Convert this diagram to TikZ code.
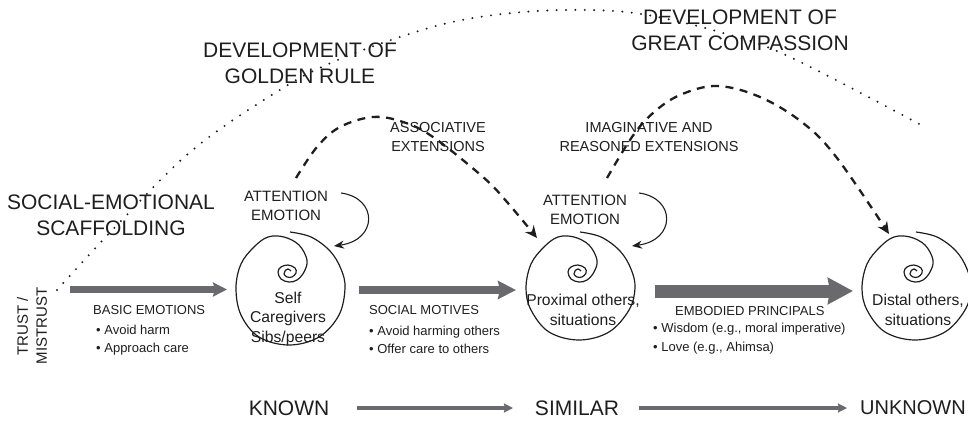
\documentclass[tikz,border=0pt]{standalone}
\usepackage{fontspec}
\setmainfont{Liberation Sans}
\usetikzlibrary{arrows.meta,calc}
\definecolor{garrow}{RGB}{105,105,110}
\definecolor{ink}{RGB}{30,30,30}
\newcommand{\spiralat}[2]{%
  \draw[line width=1.2pt,ink] plot[smooth,tension=0.6] coordinates {
   ($(#1)+(1,-40)$) ($(#1)+(22,-35)$) ($(#1)+(41,-21)$) ($(#1)+(52,-3)$) ($(#1)+(56,16)$) ($(#1)+(50,{38+#2})$) ($(#1)+(30,{60+#2})$)
   ($(#1)+(0,{68+#2})$) ($(#1)+(-30,{60+#2})$) ($(#1)+(-48,{38+#2})$) ($(#1)+(-53,16)$) ($(#1)+(-48,-8)$) ($(#1)+(-35,-25)$) ($(#1)+(-21,-35)$)
   ($(#1)+(-5,-35)$) ($(#1)+(10,-27)$) ($(#1)+(18,-12)$) ($(#1)+(15,0)$) ($(#1)+(8,8)$) ($(#1)+(0,10)$)
   ($(#1)+(-8,7)$) ($(#1)+(-11,0)$) ($(#1)+(-8,-5)$) ($(#1)+(-1,-7)$) ($(#1)+(6,-4)$) ($(#1)+(7,1)$)
   ($(#1)+(3,5)$) ($(#1)+(-2,5)$) ($(#1)+(-5,2)$) ($(#1)+(-4,-1)$) ($(#1)+(-1,-3)$) ($(#1)+(2,-1)$)};}
\tikzset{
  x=1pt,y=-1pt,
  big/.style={align=center,font=\fontsize{21}{26}\selectfont,text=ink,inner sep=0pt},
  mid/.style={align=center,font=\fontsize{15}{18.5}\selectfont,text=ink,inner sep=0pt},
  captxt/.style={align=center,font=\fontsize{14.5}{18.5}\selectfont,text=ink,inner sep=0pt},
  sm/.style={align=left,font=\fontsize{13}{18.5}\selectfont,text=ink,inner sep=0pt,anchor=west},
  lab/.style={align=center,font=\fontsize{15.7}{19.5}\selectfont,text=ink,inner sep=0pt},
  trusttxt/.style={align=center,font=\fontsize{15}{19}\selectfont,text=ink,inner sep=0pt},
  dashline/.style={line width=2.3pt,ink,dash pattern=on 8pt off 6.5pt,-{Stealth[length=12pt,width=11pt]}},
  loopline/.style={line width=1.1pt,ink,-{Stealth[length=10pt,width=8pt]}},
  dotline/.style={line width=2.2pt,ink,line cap=round,dash pattern=on 0pt off 9.4pt},
}
\begin{document}
\begin{tikzpicture}
\useasboundingbox (0,0) rectangle (968,420);
% anchor coordinates
\coordinate (sA) at (289,272);
\coordinate (sB) at (579,272);
\coordinate (sC) at (915,272);
% dotted arc
\coordinate (dotS) at (57,290);
\coordinate (dotE) at (923,126);
\draw[dotline] plot[smooth,tension=0.6] coordinates {(dotS) (120,222) (195,148) (283,88) (333,62) (397,38) (457,21) (523,12) (590,10) (647,15) (723,33) (790,57) (dotE)};
% titles
\node[big] (tA) at (111,215) {SOCIAL-EMOTIONAL\\SCAFFOLDING};
\node[big] (tB) at (300,63) {DEVELOPMENT OF\\GOLDEN RULE};
\node[big] (tC) at (740,30) {DEVELOPMENT OF\\GREAT COMPASSION};
\node[captxt] (eA) at (438,137) {ASSOCIATIVE\\EXTENSIONS};
\node[captxt] (eB) at (649,137) {IMAGINATIVE AND\\REASONED EXTENSIONS};
% spirals
\spiralat{sA}{5}
\spiralat{sB}{0}
\spiralat{sC}{0}
% attention labels
\node[mid] (aA) at (286,206) {ATTENTION\\EMOTION};
\node[mid] (aB) at (585,210) {ATTENTION\\EMOTION};
\coordinate (lA1) at (341,193); \coordinate (lA2) at (334,246);
\coordinate (lB1) at (639,193); \coordinate (lB2) at (632,246);
\draw[loopline] (lA1) .. controls (378,198) and (378,240) .. (lA2);
\draw[loopline] (lB1) .. controls (676,198) and (676,240) .. (lB2);
% dashed
\coordinate (dA1) at (296,178); \coordinate (dA2) at (537,238);
\coordinate (dB1) at (607,178); \coordinate (dB2) at (889,234);
\draw[dashline] plot[smooth,tension=0.6] coordinates {(dA1) (317,147) (340,127) (373,117) (403,122) (433,137) (483,177) (507,202) (dA2)};
\draw[dashline] plot[smooth,tension=0.6] coordinates {(dB1) (632,137) (653,113) (680,95) (717,86) (760,97) (803,123) (837,158) (dB2)};
% spiral labels
\node[lab] (nA) at (288,318.5) {Self\\Caregivers\\Sibs/peers};
\node[lab] (nB) at (583,310) {Proximal others,\\situations};
\node[lab] (nC) at (918,310) {Distal others,\\situations};
% trust
\node[trusttxt,rotate=90] (tr) at (32,326) {TRUST /\\MISTRUST};
% gray arrows
\coordinate (g1a) at (70,289.5); \coordinate (g1b) at (227,289.5);
\coordinate (g2a) at (359,290); \coordinate (g2b) at (516,290);
\coordinate (g3a) at (655,291); \coordinate (g3b) at (853,291);
\draw[garrow,line width=7pt,-{Stealth[length=14pt,width=14pt,inset=2pt]}] (g1a) -- (g1b);
\draw[garrow,line width=8.5pt,-{Stealth[length=18pt,width=18pt,inset=2pt]}] (g2a) -- (g2b);
\draw[garrow,line width=13pt,-{Stealth[length=25pt,width=26pt,inset=2pt]}] (g3a) -- (g3b);
% captions
\node[sm] (bA) at (93,310) {BASIC EMOTIONS};
\node[sm] (bB) at (96,340) {• Avoid harm\\• Approach care};
\node[sm] (cA) at (369,310) {SOCIAL MOTIVES};
\node[sm] (cB) at (369,340) {• Avoid harming others\\• Offer care to others};
\node[sm] (dA) at (675,311) {EMBODIED PRINCIPALS};
\node[sm] (dB) at (653,338.5) {• Wisdom (e.g., moral imperative)\\• Love (e.g., Ahimsa)};
% bottom row
\node[big] (kA) at (289,408) {KNOWN};
\node[big] (kB) at (577,408) {SIMILAR};
\node[big,anchor=west,font=\fontsize{20}{26}\selectfont] (kC) at (860,408) {UNKNOWN};
\draw[garrow,line width=3.5pt,-{Stealth[length=9pt,width=9pt,inset=1pt]}] (357,408) -- (kB.west -| 513,408);
\draw[garrow,line width=3.5pt,-{Stealth[length=9pt,width=9pt,inset=1pt]}] (639,408) -- (847,408);
\end{tikzpicture}
\end{document}
